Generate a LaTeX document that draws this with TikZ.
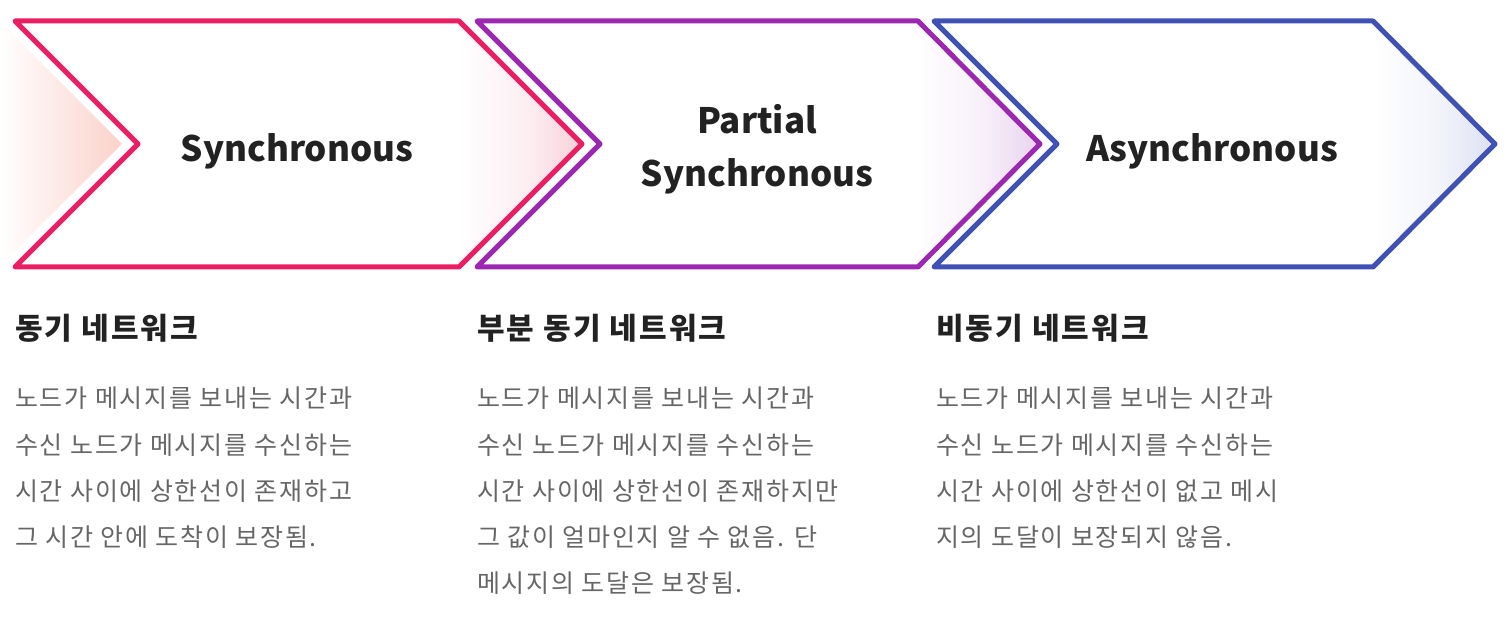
\documentclass[tikz,border=0pt]{standalone}
\usepackage{fontspec}
\setmainfont{Noto Sans CJK KR}
\newfontfamily\krfont[LetterSpace=7.0]{Noto Sans CJK KR}
\usetikzlibrary{shadings}
\definecolor{cA}{HTML}{E91E63}
\definecolor{cB}{HTML}{9C27B0}
\definecolor{cC}{HTML}{3F51B5}
\definecolor{tA}{HTML}{F8D2DB}
\definecolor{tB}{HTML}{E9D3EF}
\definecolor{tC}{HTML}{DCE0F2}
\definecolor{tL}{HTML}{FAD2CA}
\definecolor{headc}{HTML}{222222}
\definecolor{bodyc}{HTML}{666666}
\pgfdeclarehorizontalshading{tipA}{100bp}{color(0bp)=(white); color(64bp)=(white); color(70bp)=(tA!35!white); color(75bp)=(tA); color(100bp)=(tA)}
\pgfdeclarehorizontalshading{tipB}{100bp}{color(0bp)=(white); color(64bp)=(white); color(70bp)=(tB!35!white); color(75bp)=(tB); color(100bp)=(tB)}
\pgfdeclarehorizontalshading{tipC}{100bp}{color(0bp)=(white); color(64bp)=(white); color(70bp)=(tC!35!white); color(75bp)=(tC); color(100bp)=(tC)}
\tikzset{
  chev/.style={line width=5pt, line join=round},
  entitle/.style={font=\fontsize{35}{53}\selectfont\bfseries, text=headc, inner sep=0pt, align=center},
  krhead/.style={font=\krfont\fontsize{30}{36}\selectfont\bfseries, text=headc, inner sep=0pt, anchor=base west},
  krbody/.style={font=\krfont\fontsize{25}{46.5}\selectfont, text=bodyc, inner sep=0pt, anchor=base west, align=left},
}
\begin{document}
\begin{tikzpicture}[x=1pt,y=-1pt]
\useasboundingbox (0,0) rectangle (1512,620);
% left decorative triangle
\shade[left color=white, right color=tL] (0,22) -- (122,144) -- (0,266) -- cycle;
% chevrons
\path[chev, draw=cA, shade, shading=tipA] (15,21) -- (459,21) -- (582,144) -- (459,267) -- (15,267) -- (138,144) -- cycle;
\path[chev, draw=cB, shade, shading=tipB] (477,21) -- (918,21) -- (1040,144) -- (918,267) -- (477,267) -- (600,144) -- cycle;
\path[chev, draw=cC, shade, shading=tipC] (934,21) -- (1373,21) -- (1495,144) -- (1373,267) -- (934,267) -- (1057,144) -- cycle;
% titles
\node[entitle, anchor=base] (t1) at (297,162) {Synchronous};
\node[entitle, anchor=base] (t2a) at (757,134) {Partial};
\node[entitle, anchor=base] (t2b) at (757,187) {Synchronous};
\node[entitle, anchor=base] (t3) at (1212,162) {Asynchronous};
% headings
\node[krhead] (h1) at (15,339) {동기 네트워크};
\node[krhead] (h2) at (477,339) {부분 동기 네트워크};
\node[krhead] (h3) at (936,339) {비동기 네트워크};
% bodies
\node[krbody] (b1a) at (15,407) {노드가 메시지를 보내는 시간과};
\node[krbody] (b1b) at (15,454) {수신 노드가 메시지를 수신하는};
\node[krbody] (b1c) at (15,500) {시간 사이에 상한선이 존재하고};
\node[krbody] (b1d) at (15,546) {그 시간 안에 도착이 보장됨.};
\node[krbody] (b2a) at (477,407) {노드가 메시지를 보내는 시간과};
\node[krbody] (b2b) at (477,454) {수신 노드가 메시지를 수신하는};
\node[krbody] (b2c) at (477,500) {시간 사이에 상한선이 존재하지만};
\node[krbody] (b2d) at (477,546) {그 값이 얼마인지 알 수 없음. 단};
\node[krbody] (b2e) at (477,592) {메시지의 도달은 보장됨.};
\node[krbody] (b3a) at (936,407) {노드가 메시지를 보내는 시간과};
\node[krbody] (b3b) at (936,454) {수신 노드가 메시지를 수신하는};
\node[krbody] (b3c) at (936,500) {시간 사이에 상한선이 없고 메시};
\node[krbody] (b3d) at (936,546) {지의 도달이 보장되지 않음.};
\end{tikzpicture}
\end{document}
